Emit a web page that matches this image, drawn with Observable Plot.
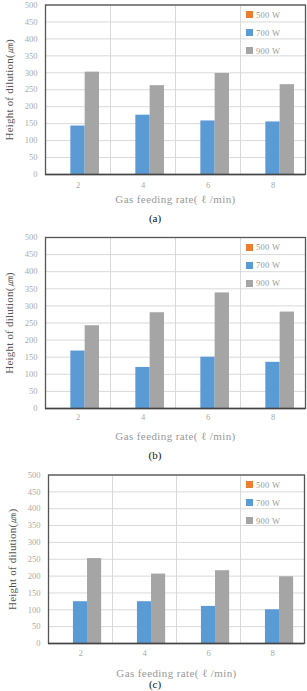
<!DOCTYPE html>
<html>
<head>
<meta charset="utf-8">
<script src="https://cdn.jsdelivr.net/npm/d3@7"></script>
<script src="https://cdn.jsdelivr.net/npm/@observablehq/plot@0.6"></script>
<style>
  html, body { margin: 0; padding: 0; background: #fff; }
  #root { position: relative; width: 307px; height: 691px; overflow: hidden; font-family: "Liberation Serif", "DejaVu Serif", serif; }
  .panel { position: absolute; left: 0; width: 307px; }
  .panel svg { display: block; overflow: visible; }
  .caption { position: absolute; left: 0; width: 310px; text-align: center; font-size: 11px; color: #111; line-height: 12px; }
  .legend { position: absolute; left: 246px; font-size: 8.5px; color: #999; letter-spacing: 0.3px; }
  .legend .item { position: absolute; left: 0; white-space: nowrap; line-height: 8px; height: 8px; }
  .legend .sw { display: inline-block; width: 7px; height: 7px; vertical-align: top; margin-right: 3px; margin-top: 0.5px; }
  svg [aria-label="y-axis label"] { fill: #555; }
  svg [aria-label="fx-axis label"] { fill: #999; }
</style>
</head>
<body>
<div id="root"></div>
<script>
// ---- data ----
const categories = ["2", "4", "6", "8"];
const series = ["500 W", "700 W", "900 W"];
const seriesColors = ["#ED7D31", "#5B9BD5", "#A5A5A5"];
const yTicks = [0, 50, 100, 150, 200, 250, 300, 350, 400, 450, 500];

const a500 = [0, 0, 0, 0];
const a700 = [143, 175, 158, 155];
const a900 = [302, 262, 298, 265];

const b500 = [0, 0, 0, 0];
const b700 = [168, 120, 150, 135];
const b900 = [242, 280, 338, 282];

const c500 = [0, 0, 0, 0];
const c700 = [124, 124, 110, 100];
const c900 = [252, 206, 216, 198];

const panelCaptions = ["(a)", "(b)", "(c)"];
const yLabel = "Height of dilution(\u339B)";
const xLabel = "Gas feeding rate( \u2113 /min)";

// ---- layout ----
const layouts = [
  {top: 0,   mt: 4.5,  plotH: 169.5, ml: 45,   mb: 31, tickPad: 7, labelOff: 28, cap: 212},
  {top: 230, mt: 7,    plotH: 171,   ml: 44.5, mb: 34, tickPad: 5, labelOff: 31, cap: 219},
  {top: 460, mt: 14.5, plotH: 168.5, ml: 46.5, mb: 34, tickPad: 6, labelOff: 33, cap: 218}
];

const panelsData = [[a500, a700, a900], [b500, b700, b900], [c500, c700, c900]];

const root = document.getElementById("root");

panelsData.forEach((vals, i) => {
  const L = layouts[i];
  const data = [];
  categories.forEach((c, ci) => {
    series.forEach((s, si) => data.push({cat: c, series: s, value: vals[si][ci]}));
  });
  const height = L.mt + L.plotH + L.mb;
  const chart = Plot.plot({
    width: 307,
    height,
    marginLeft: L.ml,
    marginRight: 2,
    marginTop: L.mt,
    marginBottom: L.mb,
    style: {fontFamily: '"Liberation Serif", "DejaVu Serif", serif', fontSize: "8.5px", color: "#aaa", background: "transparent"},
    fx: {domain: categories, paddingInner: 0, paddingOuter: 0, axis: "bottom", tickSize: 0, tickPadding: L.tickPad,
         label: xLabel, labelAnchor: "center", labelOffset: L.labelOff, labelArrow: "none"},
    x: {domain: series, paddingInner: 0, paddingOuter: 0.77, axis: null, round: false},
    y: {domain: [0, 500], ticks: yTicks, tickSize: 0, tickPadding: 8, label: yLabel, labelAnchor: "center", labelOffset: 40, labelArrow: "none"},
    color: {domain: series, range: seriesColors},
    marks: [
      Plot.gridY(yTicks, {stroke: "#d9d9d9", strokeOpacity: 1, strokeWidth: 1}),
      Plot.frame({stroke: "#d9d9d9", strokeWidth: 1}),
      Plot.barY(data, {fx: "cat", x: "series", y: "value", fill: "series"}),
      Plot.frame({facet: "super", stroke: "#555", strokeWidth: 1.3}),
      Plot.ruleY([0], {stroke: "#444", strokeWidth: 1.6})
    ]
  });
  chart.querySelectorAll("[aria-label='fx-axis label'] text").forEach(t => { t.style.fontSize = "11px"; t.style.letterSpacing = "0.4px"; });
  chart.querySelectorAll("[aria-label='y-axis label'] text").forEach(t => { t.style.fontSize = "11px"; t.style.letterSpacing = "0.2px"; });

  const panel = document.createElement("div");
  panel.className = "panel";
  panel.style.top = L.top + "px";
  panel.style.height = (L.cap + 14) + "px";
  panel.appendChild(chart);

  const legend = document.createElement("div");
  legend.className = "legend";
  legend.style.top = (L.mt + 6) + "px";
  series.forEach((s, si) => {
    const it = document.createElement("div");
    it.className = "item";
    it.style.top = (si * 18) + "px";
    const sw = document.createElement("span");
    sw.className = "sw";
    sw.style.background = seriesColors[si];
    it.appendChild(sw);
    it.appendChild(document.createTextNode(s));
    legend.appendChild(it);
  });
  panel.appendChild(legend);

  const cap = document.createElement("div");
  cap.className = "caption";
  cap.style.top = L.cap + "px";
  cap.textContent = panelCaptions[i];
  panel.appendChild(cap);

  root.appendChild(panel);
});
</script>
</body>
</html>
